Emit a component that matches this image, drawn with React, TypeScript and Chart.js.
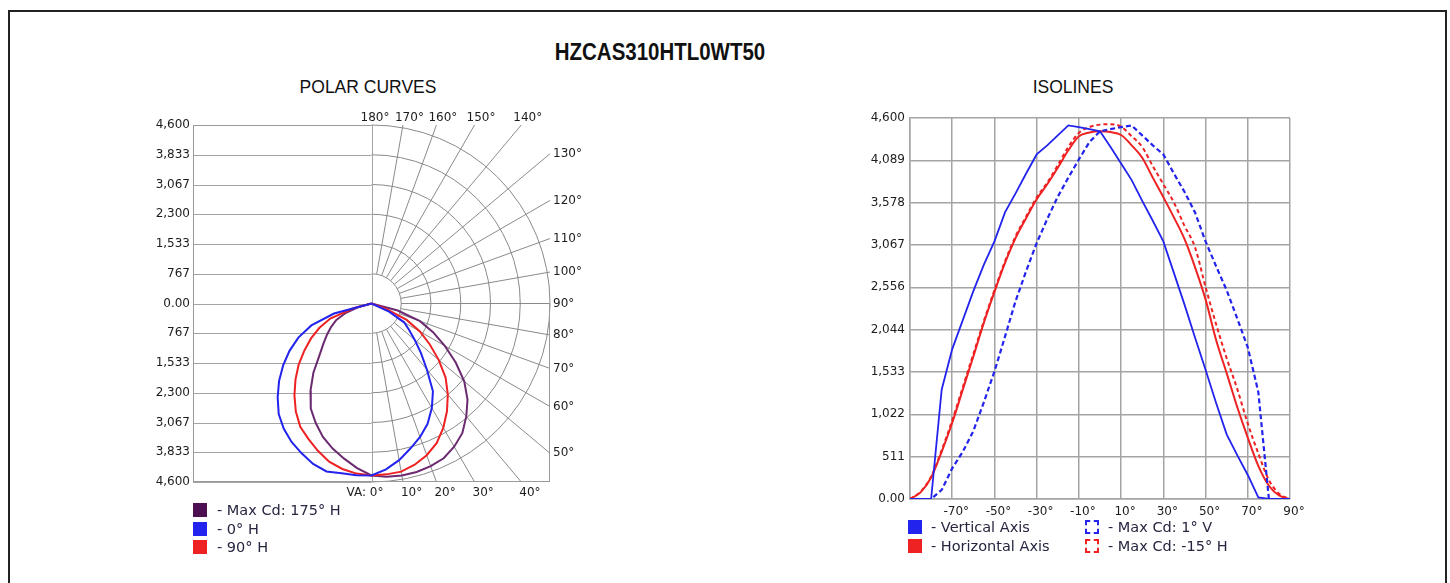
import React, { useEffect, useRef } from "react";
import { Chart, registerables } from "chart.js";

Chart.register(...registerables);

// ---------------- DATA ----------------
const TITLE = "HZCAS310HTL0WT50";
const POLAR_TITLE = "POLAR CURVES";
const ISO_TITLE = "ISOLINES";

// Polar curves: intensity (cd) against vertical angle 0..90°, for each half-plane
const POLAR_ANGLES = [0, 5, 10, 15, 20, 25, 30, 35, 40, 45, 50, 55, 60, 65, 70, 75, 80, 85, 90];
const MAXCD_175H_LEFT = [4430, 4260, 4060, 3870, 3660, 3400, 3130, 2740, 2330, 1900, 1620, 1400, 1200, 1000, 700, 350, 0, 0, 0];
const MAXCD_175H_RIGHT = [4430, 4480, 4500, 4495, 4460, 4400, 4260, 4080, 3800, 3500, 3120, 2650, 2180, 1750, 1330, 700, 0, 0, 0];
const H0_LEFT = [4430, 4440, 4445, 4480, 4400, 4260, 4120, 3940, 3720, 3420, 3110, 2780, 2440, 2080, 1650, 1000, 0, 0, 0];
const H0_RIGHT = [4430, 4290, 4100, 3870, 3660, 3420, 3110, 2760, 2220, 1800, 1450, 1180, 970, 500, 0, 0, 0, 0, 0];
const H90_LEFT = [4430, 4400, 4330, 4220, 4040, 3850, 3670, 3400, 3090, 2770, 2450, 2110, 1800, 1480, 1130, 500, 0, 0, 0];
const H90_RIGHT = [4430, 4420, 4400, 4300, 4160, 3970, 3700, 3390, 3060, 2700, 2260, 1830, 1440, 1000, 400, 0, 0, 0, 0];

const POLAR_MAX = 4600;
const POLAR_RINGS = 6;
const POLAR_RADIALS = [10, 20, 30, 40, 50, 60, 70, 80, 90, 100, 110, 120, 130, 140, 150, 160, 170];
const POLAR_TOP_LABELS = [180, 170, 160, 150, 140];
const POLAR_RIGHT_LABELS = [130, 120, 110, 100, 90, 80, 70, 60, 50];
const POLAR_BOTTOM_LABELS = [0, 10, 20, 30, 40];
const POLAR_LEGEND = ["- Max Cd: 175° H", "- 0° H", "- 90° H"];

// Isolines: intensity (cd) against angle -90..90°
const ISO_ANGLES = [-90, -85, -80, -75, -70, -65, -60, -55, -50, -45, -40, -35, -30, -25, -20, -15, -10, -5, 0, 5, 10, 15, 20, 25, 30, 35, 40, 45, 50, 55, 60, 65, 70, 75, 80, 85, 90];
const VERTICAL_AXIS = [0, 0, 0, 1320, 1810, 2160, 2510, 2830, 3110, 3460, 3690, 3930, 4160, 4270, 4390, 4510, 4490, 4465, 4440, 4250, 4050, 3850, 3600, 3360, 3110, 2730, 2350, 1950, 1560, 1160, 780, 530, 290, 20, 0, 0, 0];
const HORIZONTAL_AXIS = [0, 80, 260, 570, 920, 1320, 1720, 2130, 2500, 2850, 3150, 3390, 3620, 3800, 4000, 4210, 4380, 4425, 4440, 4430, 4395, 4270, 4120, 3880, 3645, 3400, 3140, 2800, 2410, 1920, 1520, 1110, 740, 400, 160, 40, 0];
const MAXCD_1V = [0, 0, 0, 110, 370, 570, 820, 1170, 1540, 1960, 2390, 2750, 3090, 3380, 3650, 3880, 4100, 4310, 4440, 4465, 4490, 4510, 4390, 4270, 4160, 3930, 3710, 3460, 3110, 2810, 2520, 2180, 1830, 1290, 0, 0, 0];
const MAXCD_M15H = [0, 90, 270, 590, 950, 1350, 1750, 2150, 2520, 2870, 3170, 3410, 3640, 3820, 4030, 4250, 4420, 4490, 4520, 4525, 4495, 4380, 4250, 4020, 3800, 3580, 3300, 3040, 2560, 2110, 1700, 1330, 910, 550, 230, 60, 0];
const ISO_MAX = 4600;
const ISO_STEPS = 9;
const ISO_LEGEND_LEFT = ["- Vertical Axis", "- Horizontal Axis"];
const ISO_LEGEND_RIGHT = ["- Max Cd: 1° V", "- Max Cd: -15° H"];

// ---------------- STYLE ----------------
const PURPLE = "#6b2a70";
const PURPLE_DARK = "#4d0f52";
const BLUE = "#2323ee";
const RED = "#ee2222";
const GRID = "#a4a4a4";
const POLAR_GRID = "#8a8a8a";
const TEXT = "#1c1c1c";
const TICK_FONT = { family: "'DejaVu Sans', Verdana, sans-serif", size: 12 };

const fmt = (v: number) => {
  const a = Math.abs(v);
  if (a < 1e-6) return "0.00";
  return Math.round(a).toLocaleString("en-US");
};

function polarPoints(left: number[], right: number[]) {
  const pts: { x: number; y: number }[] = [];
  for (let i = POLAR_ANGLES.length - 1; i >= 0; i--) {
    const t = (POLAR_ANGLES[i] * Math.PI) / 180;
    pts.push({ x: -left[i] * Math.sin(t), y: -left[i] * Math.cos(t) });
  }
  for (let i = 1; i < POLAR_ANGLES.length; i++) {
    const t = (POLAR_ANGLES[i] * Math.PI) / 180;
    pts.push({ x: right[i] * Math.sin(t), y: -right[i] * Math.cos(t) });
  }
  return pts;
}

function endLen(a: any, cx: number, cy: number, dx: number, dy: number) {
  const hx = dx > 1e-9 ? (a.right - cx) / dx : Infinity;
  const hy = dy > 1e-9 ? (a.bottom - cy) / dy : dy < -1e-9 ? (a.top - cy) / dy : Infinity;
  return Math.min(hx, hy);
}

const polarGridPlugin = {
  id: "polarGrid",
  beforeDatasetsDraw(chart: any) {
    const { ctx, chartArea: a, scales } = chart;
    const xs = scales.x;
    const ys = scales.y;
    const cx = xs.getPixelForValue(0);
    const cy = ys.getPixelForValue(0);
    const step = POLAR_MAX / POLAR_RINGS;
    const rp = (v: number) => xs.getPixelForValue(v) - cx;
    const line = (x1: number, y1: number, x2: number, y2: number) => {
      ctx.beginPath();
      ctx.moveTo(x1, y1);
      ctx.lineTo(x2, y2);
      ctx.stroke();
    };
    ctx.save();
    ctx.lineWidth = 1;
    ctx.strokeStyle = GRID;
    ys.ticks.forEach((t: any) => {
      const y = Math.round(ys.getPixelForValue(t.value)) + 0.5;
      line(a.left, y, cx, y);
    });
    ctx.strokeStyle = POLAR_GRID;
    for (let k = 1; k <= POLAR_RINGS; k++) {
      ctx.beginPath();
      ctx.arc(cx, cy, rp(k * step), -Math.PI / 2, Math.PI / 2);
      ctx.stroke();
    }
    const r0 = rp(step);
    POLAR_RADIALS.forEach((deg) => {
      const t = (deg * Math.PI) / 180;
      const dx = Math.sin(t);
      const dy = Math.cos(t);
      const L = endLen(a, cx, cy, dx, dy);
      line(cx + r0 * dx, cy + r0 * dy, cx + L * dx, cy + L * dy);
    });
    ctx.strokeStyle = GRID;
    const X = Math.round(cx) + 0.5;
    line(X, a.top, X, a.bottom);
    ctx.strokeStyle = "#9a9a9a";
    line(a.left + 0.5, a.top, a.left + 0.5, a.bottom);
    line(a.left, a.bottom - 0.5, a.right, a.bottom - 0.5);
    line(a.left, a.top + 0.5, cx, a.top + 0.5);
    line(a.right - 0.5, cy, a.right - 0.5, a.bottom);
    ctx.restore();
  },
  afterDraw(chart: any) {
    const { ctx, chartArea: a, scales } = chart;
    const cx = scales.x.getPixelForValue(0);
    const cy = scales.y.getPixelForValue(0);
    ctx.save();
    ctx.fillStyle = TEXT;
    ctx.font = `${TICK_FONT.size}px ${TICK_FONT.family}`;
    ctx.textBaseline = "middle";
    const end = (deg: number) => {
      const t = (deg * Math.PI) / 180;
      const dx = Math.sin(t);
      const dy = Math.cos(t);
      const L = endLen(a, cx, cy, dx, dy);
      return { x: cx + L * dx, y: cy + L * dy };
    };
    ctx.textAlign = "left";
    POLAR_TOP_LABELS.forEach((d) => {
      const p = end(d);
      ctx.fillText(`${d}°`, p.x - (d === 180 ? 11 : 8), a.top - 7);
    });
    POLAR_RIGHT_LABELS.forEach((d) => {
      const p = end(d);
      ctx.fillText(`${d}°`, a.right + 3, p.y);
    });
    POLAR_BOTTOM_LABELS.forEach((d) => {
      const p = end(d);
      if (d === 0) {
        ctx.textAlign = "right";
        ctx.fillText(`VA: ${d}°`, p.x + 12, a.bottom + 11);
        ctx.textAlign = "left";
      } else {
        ctx.fillText(`${d}°`, p.x - 2, a.bottom + 11);
      }
    });
    ctx.restore();
  },
};

function PolarChart() {
  const ref = useRef<HTMLCanvasElement>(null);
  useEffect(() => {
    const chart = new Chart(ref.current!, {
      type: "scatter",
      data: {
        datasets: [
          { label: "0° H", data: polarPoints(H0_LEFT, H0_RIGHT), borderColor: BLUE },
          { label: "90° H", data: polarPoints(H90_LEFT, H90_RIGHT), borderColor: RED },
          { label: "Max Cd: 175° H", data: polarPoints(MAXCD_175H_LEFT, MAXCD_175H_RIGHT), borderColor: PURPLE },
        ].map((d) => ({ ...d, showLine: true, pointRadius: 0, borderWidth: 2, tension: 0, fill: false })),
      },
      options: {
        responsive: false,
        animation: false,
        layout: { padding: { top: 30, right: 60, bottom: 33, left: 0 } },
        plugins: { legend: { display: false }, tooltip: { enabled: false }, title: { display: false } },
        scales: {
          x: { type: "linear", min: -POLAR_MAX, max: POLAR_MAX, display: false },
          y: {
            type: "linear",
            min: -POLAR_MAX,
            max: POLAR_MAX,
            grid: { display: false, drawTicks: false },
            border: { display: false },
            ticks: { count: POLAR_RINGS * 2 + 1, padding: 3, color: TEXT, font: TICK_FONT, callback: (v: any) => fmt(Number(v)) },
            afterFit: (s: any) => {
              s.width = 63;
            },
          },
        },
      },
      plugins: [polarGridPlugin],
    } as any);
    return () => chart.destroy();
  }, []);
  return <canvas ref={ref} width={480} height={420} style={{ position: "absolute", left: 130, top: 95 }} />;
}

function IsoChart() {
  const ref = useRef<HTMLCanvasElement>(null);
  useEffect(() => {
    const pts = (vals: number[]) => ISO_ANGLES.map((x, i) => ({ x, y: vals[i] }));
    const chart = new Chart(ref.current!, {
      type: "line",
      data: {
        datasets: [
          { label: "Vertical Axis", data: pts(VERTICAL_AXIS), borderColor: BLUE, borderWidth: 1.8, tension: 0 },
          { label: "Max Cd: 1° V", data: pts(MAXCD_1V), borderColor: BLUE, borderWidth: 2.2, borderDash: [5, 3], tension: 0 },
          { label: "Horizontal Axis", data: pts(HORIZONTAL_AXIS), borderColor: RED, borderWidth: 2, cubicInterpolationMode: "monotone" },
          { label: "Max Cd: -15° H", data: pts(MAXCD_M15H), borderColor: RED, borderWidth: 2, borderDash: [4, 3], cubicInterpolationMode: "monotone" },
        ].map((d) => ({ ...d, pointRadius: 0, fill: false })),
      },
      options: {
        responsive: false,
        animation: false,
        layout: { padding: { top: 23, right: 40, bottom: 0, left: 0 } },
        plugins: { legend: { display: false }, tooltip: { enabled: false }, title: { display: false } },
        scales: {
          x: {
            type: "linear",
            min: -90,
            max: 90,
            grid: { color: GRID, lineWidth: 1.5, drawTicks: false },
            border: { display: true, color: GRID, width: 1.5 },
            ticks: {
              stepSize: 20,
              padding: 6,
              labelOffset: 4,
              maxRotation: 0,
              autoSkip: false,
              color: TEXT,
              font: TICK_FONT,
              callback: (v: any) => (Number(v) === -90 ? "" : `${v}°`),
            },
            afterFit: (s: any) => {
              s.height = 36;
            },
          },
          y: {
            type: "linear",
            min: 0,
            max: ISO_MAX,
            grid: { color: GRID, lineWidth: 1.5, drawTicks: false },
            border: { display: true, color: GRID, width: 1.5 },
            ticks: { stepSize: ISO_MAX / ISO_STEPS, padding: 5, color: TEXT, font: TICK_FONT, callback: (v: any) => fmt(Number(v)) },
            afterFit: (s: any) => {
              s.width = 60;
            },
          },
        },
      },
    } as any);
    return () => chart.destroy();
  }, []);
  return <canvas ref={ref} width={480} height={440} style={{ position: "absolute", left: 850, top: 95 }} />;
}

const LEGEND_FONT: React.CSSProperties = {
  fontFamily: "'DejaVu Sans', Verdana, sans-serif",
  fontSize: 14.5,
  color: "#262640",
  whiteSpace: "nowrap",
  lineHeight: "18px",
};

function LegendItem(props: { x: number; y: number; textX: number; color: string; dashed?: boolean; label: string }) {
  const { x, y, textX, color, dashed, label } = props;
  return (
    <>
      <div
        style={{
          position: "absolute",
          left: x,
          top: y - 7,
          width: 14,
          height: 14,
          boxSizing: "border-box",
          background: dashed ? "transparent" : color,
          border: dashed ? `2px dashed ${color}` : "none",
        }}
      />
      <div style={{ ...LEGEND_FONT, position: "absolute", left: textX, top: y - 9 }}>{label}</div>
    </>
  );
}

const SUBTITLE: React.CSSProperties = {
  position: "absolute",
  top: 77,
  width: 300,
  textAlign: "center",
  fontFamily: "'Liberation Sans', Arial, sans-serif",
  fontSize: 17.5,
  lineHeight: "20px",
  color: "#111",
};

export default function App() {
  return (
    <div style={{ position: "fixed", left: 0, top: 0, width: 1450, height: 583, overflow: "hidden", background: "#fff" }}>
      <div style={{ position: "absolute", left: 8, top: 10, width: 1439, height: 620, border: "2px solid #222", boxSizing: "border-box" }} />
      <div
        style={{
          position: "absolute",
          left: 460,
          top: 40,
          width: 400,
          textAlign: "center",
          fontFamily: "'Liberation Sans', Arial, sans-serif",
          fontWeight: "bold",
          fontSize: 23,
          lineHeight: "24px",
          color: "#111",
          transform: "scaleX(0.89)",
          transformOrigin: "50% 50%",
        }}
      >
        {TITLE}
      </div>
      <div style={{ ...SUBTITLE, left: 218 }}>{POLAR_TITLE}</div>
      <div style={{ ...SUBTITLE, left: 923 }}>{ISO_TITLE}</div>
      <PolarChart />
      <IsoChart />
      <LegendItem x={193} y={510} textX={217} color={PURPLE_DARK} label={POLAR_LEGEND[0]} />
      <LegendItem x={193} y={529} textX={217} color={BLUE} label={POLAR_LEGEND[1]} />
      <LegendItem x={193} y={547} textX={217} color={RED} label={POLAR_LEGEND[2]} />
      <LegendItem x={908} y={527} textX={931} color={BLUE} label={ISO_LEGEND_LEFT[0]} />
      <LegendItem x={908} y={546} textX={931} color={RED} label={ISO_LEGEND_LEFT[1]} />
      <LegendItem x={1085} y={527} textX={1108} color={BLUE} dashed label={ISO_LEGEND_RIGHT[0]} />
      <LegendItem x={1085} y={546} textX={1108} color={RED} dashed label={ISO_LEGEND_RIGHT[1]} />
    </div>
  );
}
